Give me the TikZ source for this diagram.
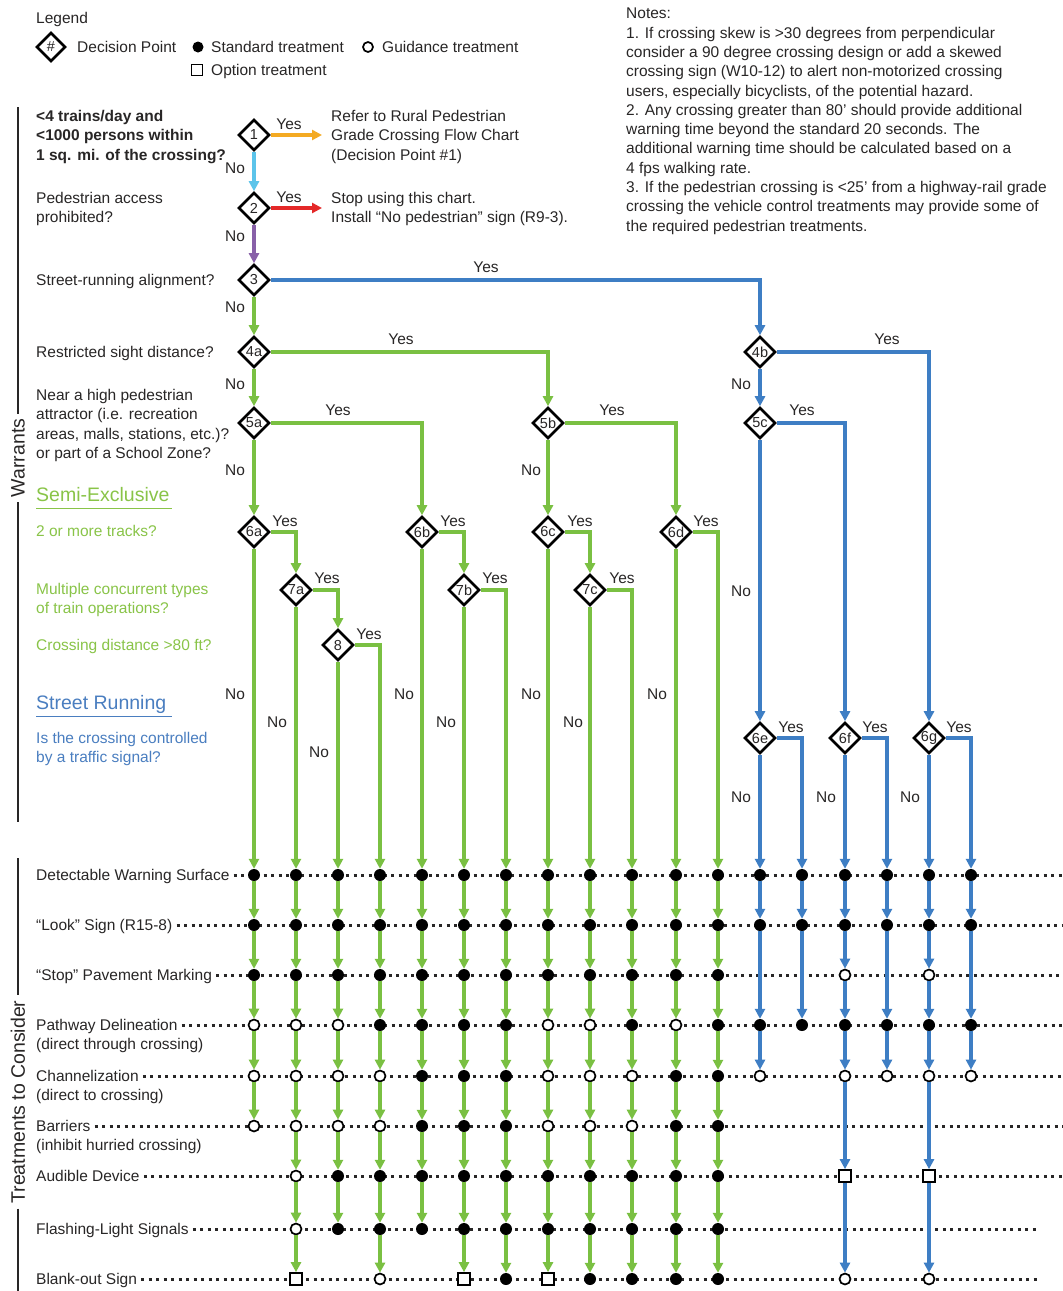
\documentclass[tikz,border=0pt]{standalone}
\usepackage{fontspec}
\setmainfont{Liberation Sans}
\usepackage{xcolor}
\definecolor{ink}{RGB}{40,38,38}
\definecolor{semigreen}{RGB}{122,192,66}
\definecolor{streetblue}{RGB}{62,126,196}
\definecolor{txtgreen}{RGB}{137,196,72}
\definecolor{txtblue}{RGB}{74,126,192}
\definecolor{orangeflow}{RGB}{244,170,34}
\definecolor{redflow}{RGB}{228,40,40}
\definecolor{cyanflow}{RGB}{92,196,234}
\definecolor{purpleflow}{RGB}{136,96,168}
\usepackage{tikz}
\usetikzlibrary{arrows.meta, positioning, shapes.geometric}

\newcommand{\mainsize}{\fontsize{15.5}{19.3}\selectfont}
\newcommand{\headsize}{\fontsize{19.5}{23}\selectfont}
\newcommand{\decsize}{\fontsize{14.5}{15}\selectfont}
% y position of each treatment row
\newcommand{\rowy}[1]{\ifcase#1\or875\or925\or975\or1025\or1076\or1126\or1176\or1229\or1279\fi}

\begin{document}
\begin{tikzpicture}[x=1pt, y=-1pt,
    every node/.style={font=\mainsize, text=ink},
    dec/.style={diamond, draw=black, line width=2.6pt, fill=white,
      inner sep=0pt, minimum width=31pt, minimum height=31pt, font=\decsize},
    txt/.style={anchor=north west, inner sep=0pt, align=left},
    rowlbl/.style={anchor=west, inner sep=0pt, text height=12pt, text depth=1pt},
    lab/.style={inner sep=0pt, text height=12pt, text depth=1pt},
    mkf/.style={circle, fill=black, inner sep=0pt, minimum size=12pt},
    mko/.style={circle, draw=black, line width=1.7pt, fill=white, inner sep=0pt, minimum size=11pt},
    mks/.style={rectangle, draw=black, line width=1.7pt, fill=white, inner sep=0pt, minimum size=12pt},
    flow/.style={draw=#1, line width=3.5pt, -{Triangle[width=10pt,length=10pt]}},
    dotrow/.style={draw=ink, line width=3pt, dash pattern=on 3pt off 4.5pt},
    sideline/.style={draw=ink, line width=1.8pt}
]
\fill[white] (0,0) rectangle (1063,1291);
\useasboundingbox (0,0) rectangle (1063,1291);

% legend
\node[txt] (lg) at (36,12) {Legend};
\node[dec, minimum width=29pt, minimum height=29pt] (ldec) at (51,47) {\#};
\node[rowlbl] (ldect) at (77,47) {Decision Point};
\node[mkf, minimum size=11pt] (lstd) at (198,47) {};
\node[rowlbl] (lstdt) at (211,47) {Standard treatment};
\node[mko, minimum size=10pt] (lgui) at (368,47) {};
\node[rowlbl] (lguit) at (382,47) {Guidance treatment};
\node[mks, minimum size=11pt] (lopt) at (197,70) {};
\node[rowlbl] (loptt) at (211,70) {Option treatment};

% notes
\node[txt] (notes) at (626,8) {Notes:\\
1. If crossing skew is >30 degrees from perpendicular\\
consider a 90 degree crossing design or add a skewed\\
crossing sign (W10-12) to alert non-motorized crossing\\
users, especially bicyclists, of the potential hazard.\\
2. Any crossing greater than 80’ should provide additional\\
warning time beyond the standard 20 seconds. The\\
additional warning time should be calculated based on a\\
4 fps walking rate.\\
3. If the pedestrian crossing is <25’ from a highway-rail grade\\
crossing the vehicle control treatments may provide some of\\
the required pedestrian treatments.};

% questions
\node[txt, font=\mainsize\bfseries] (q1) at (36,110) {<4 trains/day and\\<1000 persons within\\1 sq. mi. of the crossing?};
\node[txt] (q2) at (36,192) {Pedestrian access\\prohibited?};
\node[txt] (q3) at (36,274) {Street-running alignment?};
\node[txt] (q4) at (36,346) {Restricted sight distance?};
\node[txt] (q5) at (36,389) {Near a high pedestrian\\attractor (i.e. recreation\\areas, malls, stations, etc.)?\\or part of a School Zone?};
\node[txt, font=\headsize, text=txtgreen] (hsemi) at (36,487) {Semi-Exclusive};
\draw[txtgreen, line width=1.3pt] ([yshift=-7pt]hsemi.base west) -- ++(136,0);
\node[txt, text=txtgreen] (q6) at (36,525) {2 or more tracks?};
\node[txt, text=txtgreen] (q7) at (36,583) {Multiple concurrent types\\of train operations?};
\node[txt, text=txtgreen] (q8) at (36,639) {Crossing distance >80 ft?};
\node[txt, font=\headsize, text=txtblue] (hstreet) at (36,695) {Street Running};
\draw[txtblue, line width=1.3pt] ([yshift=-7pt]hstreet.base west) -- ++(136,0);
\node[txt, text=txtblue] (q9) at (36,732) {Is the crossing controlled\\by a traffic signal?};

\node[txt] (r1) at (331,110) {Refer to Rural Pedestrian\\Grade Crossing Flow Chart\\(Decision Point \#1)};
\node[txt] (r2) at (331,192) {Stop using this chart.\\Install “No pedestrian” sign (R9-3).};

% side brackets
\node[rotate=90, font=\headsize, inner sep=5pt] (warr) at (18,458) {Warrants};
\coordinate (wtop) at (18,107);
\coordinate (wbot) at (18,822);
\draw[sideline] (wtop) -- (warr.east);
\draw[sideline] (warr.west) -- (wbot);
\node[rotate=90, font=\headsize, inner sep=5pt] (treat) at (18,1102) {Treatments to Consider};
\coordinate (ttop) at (18,858);
\coordinate (tbot) at (18,1291);
\draw[sideline] (ttop) -- (treat.east);
\draw[sideline] (treat.west) -- (tbot);

% decision points
\foreach \nm/\px/\py in {1/254/135, 2/254/208, 3/254/280, 4a/254/352, 5a/254/423,
    6a/254/532, 7a/296/590, 8/338/645, 5b/548/423, 6b/422/532, 7b/464/590,
    6c/548/532, 7c/590/590, 6d/676/532, 4b/760/352, 5c/760/423,
    6e/760/738, 6f/845/738, 6g/929/738}
  \node[dec] (d\nm) at (\px,\py) {\nm};

\draw[flow=orangeflow, shorten >=9pt] (d1) -- (d1 -| r1.west);
\draw[flow=cyanflow] (d1) -- (d2);
\draw[flow=redflow, shorten >=9pt] (d2) -- (d2 -| r2.west);
\draw[flow=purpleflow] (d2) -- (d3);
\draw[flow=streetblue] (d3) -| (d4b);
\draw[flow=semigreen] (d3) -- (d4a);
\draw[flow=semigreen] (d4a) -| (d5b);
\draw[flow=semigreen] (d4a) -- (d5a);
\draw[flow=semigreen] (d5a) -| (d6b);
\draw[flow=semigreen] (d5a) -- (d6a);
\draw[flow=semigreen] (d5b) -| (d6d);
\draw[flow=semigreen] (d5b) -- (d6c);
\draw[flow=semigreen] (d6a) -| (d7a);
\draw[flow=semigreen] (d7a) -| (d8);
\draw[flow=semigreen] (d6b) -| (d7b);
\draw[flow=semigreen] (d6c) -| (d7c);
\draw[flow=streetblue] (d4b) -| (d6g);
\draw[flow=streetblue] (d4b) -- (d5c);
\draw[flow=streetblue] (d5c) -| (d6f);
\draw[flow=streetblue] (d5c) -- (d6e);

% yes / no labels
\foreach \lx/\ly/\lt [count=\k] in {289/124/Yes, 289/197/Yes, 486/267/Yes, 401/339/Yes,
    887/339/Yes, 338/410/Yes, 612/410/Yes, 802/410/Yes, 285/521/Yes, 453/521/Yes,
    580/521/Yes, 706/521/Yes, 327/578/Yes, 495/578/Yes, 622/578/Yes, 369/634/Yes,
    791/727/Yes, 875/727/Yes, 959/727/Yes,
    235/168/No, 235/236/No, 235/307/No, 235/384/No, 741/384/No, 235/470/No,
    531/470/No, 741/591/No, 235/694/No, 404/694/No, 531/694/No, 657/694/No,
    277/722/No, 446/722/No, 573/722/No, 319/752/No, 741/797/No, 826/797/No, 910/797/No}
  \node[lab] (yn\k) at (\lx,\ly) {\lt};

% treatment rows
\foreach \tl [count=\k] in {Detectable Warning Surface, “Look” Sign (R15-8),
    “Stop” Pavement Marking, Pathway Delineation, Channelization, Barriers,
    Audible Device, Flashing-Light Signals, Blank-out Sign}
  \node[rowlbl] (t\k) at (36,\rowy{\k}) {\tl};
\node[rowlbl] (t4b) at (36,1044) {(direct through crossing)};
\node[rowlbl] (t5b) at (36,1095) {(direct to crossing)};
\node[rowlbl] (t6b) at (36,1145) {(inhibit hurried crossing)};
\foreach \k/\xe in {1/1063, 2/1063, 3/1063, 4/1063, 5/1063, 6/1063, 7/1063, 8/1038, 9/1038} {
  \coordinate (e\k) at (\xe,\rowy{\k});
  \draw[dotrow] ([xshift=4pt]t\k.east) -- (e\k);
}

% treatment columns: row/mark
\foreach \cx/\cl/\marks [count=\i] in {
    254/semigreen/{1/f,2/f,3/f,4/o,5/o,6/o},
    296/semigreen/{1/f,2/f,3/f,4/o,5/o,6/o,7/o,8/o,9/s},
    338/semigreen/{1/f,2/f,3/f,4/o,5/o,6/o,7/f,8/f},
    380/semigreen/{1/f,2/f,3/f,4/f,5/o,6/o,7/f,8/f,9/o},
    422/semigreen/{1/f,2/f,3/f,4/f,5/f,6/f,7/f,8/f},
    464/semigreen/{1/f,2/f,3/f,4/f,5/f,6/f,7/f,8/f,9/s},
    506/semigreen/{1/f,2/f,3/f,4/f,5/f,6/f,7/f,8/f,9/f},
    548/semigreen/{1/f,2/f,3/f,4/o,5/o,6/o,7/f,8/f,9/s},
    590/semigreen/{1/f,2/f,3/f,4/o,5/o,6/o,7/f,8/f,9/f},
    632/semigreen/{1/f,2/f,3/f,4/f,5/o,6/o,7/f,8/f,9/f},
    676/semigreen/{1/f,2/f,3/f,4/o,5/f,6/f,7/f,8/f,9/f},
    718/semigreen/{1/f,2/f,3/f,4/f,5/f,6/f,7/f,8/f,9/f},
    760/streetblue/{1/f,2/f,4/f,5/o},
    802/streetblue/{1/f,2/f,4/f},
    845/streetblue/{1/f,2/f,3/o,4/f,5/o,7/s,9/o},
    887/streetblue/{1/f,2/f,4/f,5/o},
    929/streetblue/{1/f,2/f,3/o,4/f,5/o,7/s,9/o},
    971/streetblue/{1/f,2/f,4/f,5/o}}{
  \foreach \rw/\mt [remember=\rw as \pv (initially 0)] in \marks {
    \node[mk\mt] (m\i-\rw) at (\cx,\rowy{\rw}) {};
    \ifnum\pv>0 \draw[flow=\cl] (m\i-\pv) -- (m\i-\rw);\fi
  }
}

% into the first row
\foreach \a/\b/\cl in {6a/1/semigreen, 7a/2/semigreen, 8/3/semigreen, 6b/5/semigreen,
    7b/6/semigreen, 6c/8/semigreen, 7c/9/semigreen, 6d/11/semigreen,
    6e/13/streetblue, 6f/15/streetblue, 6g/17/streetblue}
  \draw[flow=\cl] (d\a) -- (m\b-1);
\foreach \a/\b/\cl in {8/4/semigreen, 7b/7/semigreen, 7c/10/semigreen, 6d/12/semigreen,
    6e/14/streetblue, 6f/16/streetblue, 6g/18/streetblue}
  \draw[flow=\cl] (d\a) -| (m\b-1);
\end{tikzpicture}
\end{document}
